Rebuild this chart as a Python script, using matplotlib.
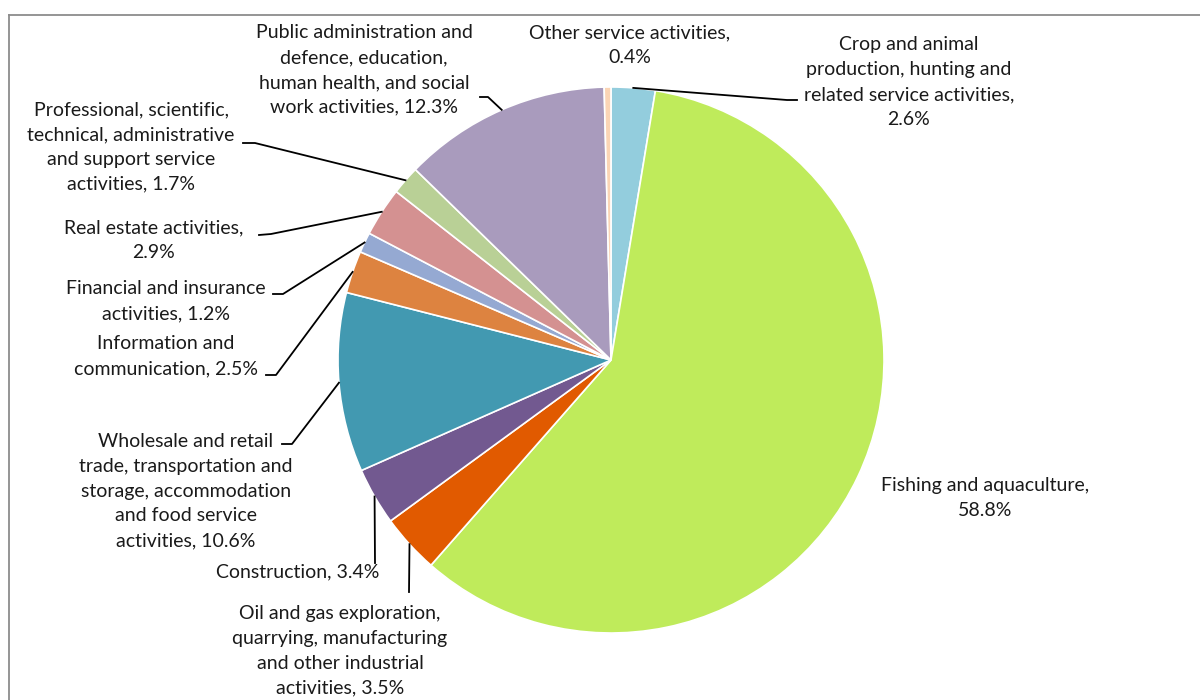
import numpy as np
import matplotlib
matplotlib.use("Agg")
import matplotlib.pyplot as plt
from matplotlib.lines import Line2D

# data, clockwise from 12 o'clock
sectors = [
    "Crop and animal\nproduction, hunting and\nrelated service activities,\n2.6%",
    "Fishing and aquaculture,\n58.8%",
    "Oil and gas exploration,\nquarrying, manufacturing\nand other industrial\nactivities, 3.5%",
    "Construction, 3.4%",
    "Wholesale and retail\ntrade, transportation and\nstorage, accommodation\nand food service\nactivities, 10.6%",
    "Information and\ncommunication, 2.5%",
    "Financial and insurance\nactivities, 1.2%",
    "Real estate activities,\n2.9%",
    "Professional, scientific,\ntechnical, administrative\nand support service\nactivities, 1.7%",
    "Public administration and\ndefence, education,\nhuman health, and social\nwork activities, 12.3%",
    "Other service activities,\n0.4%",
]
shares = [2.6, 58.8, 3.5, 3.4, 10.6, 2.5, 1.2, 2.9, 1.7, 12.3, 0.4]
colors = ["#93CDDD", "#BFEB5B", "#E15A00", "#725990", "#4299B1", "#DD8340",
          "#95A9D2", "#D49191", "#B9D096", "#A99BBD", "#FBD5B5"]

# label placement in pixels (x, y from top) and leader elbow points
label_pos = [(909, 82), (985, 498), (340, 651), (298, 572), (186, 491), (166, 356),
             (166, 301), (154, 240), (131, 147), (364, 70), (630, 45)]
leaders = [[(797, 100), (787, 100)], None, [(409, 592)], [(375, 563)],
           [(282, 444), (292, 444)], [(266, 375), (276, 375)], [(273, 294), (283, 294)],
           [(259, 235), (271, 234)], [(243, 143), (255, 143)], [(480, 97), (488, 97)], None]

W, H = 1200, 700
cx, cy, R = 611, 360, 273

plt.rcParams['font.family'] = ['Lato', 'DejaVu Sans']

fig = plt.figure(figsize=(12, 7), dpi=100)
ax = fig.add_axes([0, 0, 1, 1])

explode = [0.0] * len(shares)
explode[1] = 0.008
ax.pie(shares, colors=colors, startangle=90, counterclock=False, radius=R,
       center=(cx, H - cy), explode=explode,
       wedgeprops=dict(edgecolor="white", linewidth=1.2))
ax.set_xlim(0, W)
ax.set_ylim(0, H)
ax.set_aspect("equal")
ax.axis("off")

total = sum(shares)
cum = 0.0
for i, v in enumerate(shares):
    mid = 90 - 360 * (cum + v / 2) / total
    cum += v
    wx = cx + R * np.cos(np.radians(mid))
    wy = (H - cy) + R * np.sin(np.radians(mid))
    tx, ty = label_pos[i]
    ax.text(tx, H - ty, sectors[i], ha="center", va="center", fontsize=14,
            linespacing=1.56, color="#1a1a1a")
    if leaders[i]:
        xs = [p[0] for p in leaders[i]] + [wx]
        ys = [H - p[1] for p in leaders[i]] + [wy]
        ax.plot(xs, ys, color="black", lw=1.3)

# chart frame (cropped at right and bottom)
fig.add_artist(Line2D([9 / W, 9 / W], [0, 1 - 15 / H], color="#8c8c8c", lw=1.3,
                      transform=fig.transFigure))
fig.add_artist(Line2D([9 / W, 1], [1 - 15 / H, 1 - 15 / H], color="#8c8c8c", lw=1.3,
                      transform=fig.transFigure))

fig.savefig("out.png", dpi=100)
